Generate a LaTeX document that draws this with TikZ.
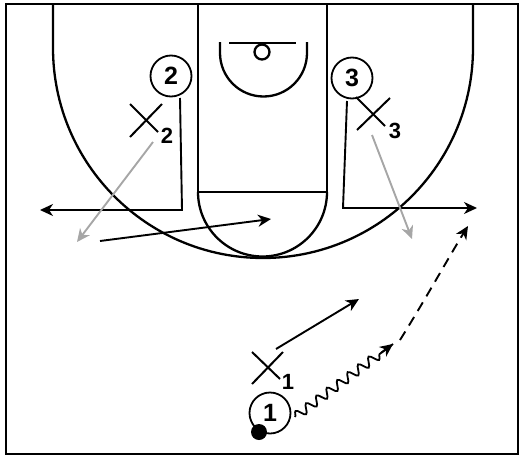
\documentclass[tikz,border=0pt]{standalone}
\usepackage{fontspec}
\setmainfont{Liberation Sans}
\usetikzlibrary{arrows.meta,decorations.pathmorphing,calc}
\begin{document}
\begin{tikzpicture}[x=1pt,y=-1pt,
  court/.style={line width=2.3pt,black},
  player/.style={circle,draw,line width=1.8pt,minimum size=41pt,inner sep=0pt,font=\bfseries\fontsize{25}{25}\selectfont},
  xmark/.style={line width=2pt},
  sublabel/.style={font=\bfseries\fontsize{22}{22}\selectfont,inner sep=0pt},
  move/.style={line width=1.9pt,-{Stealth[length=13pt,width=12pt,inset=4pt]}},
  gmove/.style={line width=1.9pt,gray!70,-{Stealth[length=13pt,width=12pt,inset=4pt]}},
  dribble/.style={line width=1.8pt,decorate,decoration={snake,amplitude=4.5pt,segment length=13pt,post length=12pt}},
]
\useasboundingbox (0,0) rectangle (525,458);
% court
\draw[court] (6,4) rectangle (518,454);
\draw[court] (53,4) -- (53,48) arc[start angle=180,end angle=0,radius=210] -- (473,4);
\draw[court] (198,4) -- (198,192) -- (327,192) -- (327,4);
\draw[court] (198,192) arc[start angle=180,end angle=0,radius=64.5];
\draw[court] (229,43) -- (296,43);
\draw[court] (262,52) circle[radius=7.5];
\draw[court] (220,42) -- (220,53) arc[start angle=180,end angle=0,radius=43.5] -- (307,42);
% players
\node[player] (p2) at (171,76) {2};
\node[player] (p3) at (352,78) {3};
\node[player] (p1) at (270,413) {1};
\fill (259,432) circle[radius=8];
% defenders
\draw[xmark] (130,137) -- (162,104);
\draw[xmark] (130,104) -- (158,132);
\node[sublabel] (d2) at (167,136) {2};
\draw[xmark] (357,130) -- (390,98);
\draw[xmark] (356,97) -- (385,126);
\node[sublabel] (d3) at (395,131) {3};
\draw[xmark] (252,384) -- (283,352);
\draw[xmark] (252,352) -- (280,379);
\node[sublabel] (d1) at (288,382) {1};
% coordinates
\coordinate (a2s) at (180,98);
\coordinate (a2c) at (182,210);
\coordinate (a2e) at (40,210);
\coordinate (a3s) at (347,101);
\coordinate (a3c) at (343,208);
\coordinate (a3e) at (477,208);
\coordinate (g2s) at (153,142);
\coordinate (g2e) at (77,242);
\coordinate (g3s) at (372,135);
\coordinate (g3e) at (412,239);
\coordinate (bs) at (100,241);
\coordinate (be) at (271,219);
\coordinate (x1s) at (276,349);
\coordinate (x1e) at (359,299);
\coordinate (ds) at (295,417);
\coordinate (de) at (393,344);
\coordinate (dm) at ($(ds)!0.88!(de)$);
\coordinate (ps) at (400,340);
\coordinate (pe) at (468,226);
% moves
\draw[move] (a2s) -- (a2c) -- (a2e);
\draw[move] (a3s) -- (a3c) -- (a3e);
\draw[gmove] (g2s) -- (g2e);
\draw[gmove] (g3s) -- (g3e);
\draw[move] (bs) -- (be);
\draw[move] (x1s) -- (x1e);
\draw[dribble] (ds) -- (de);
\draw[move] (dm) -- (de);
\draw[move,dash pattern=on 10pt off 7pt] (ps) .. controls (425,300) and (450,255) .. (pe);
\end{tikzpicture}
\end{document}
